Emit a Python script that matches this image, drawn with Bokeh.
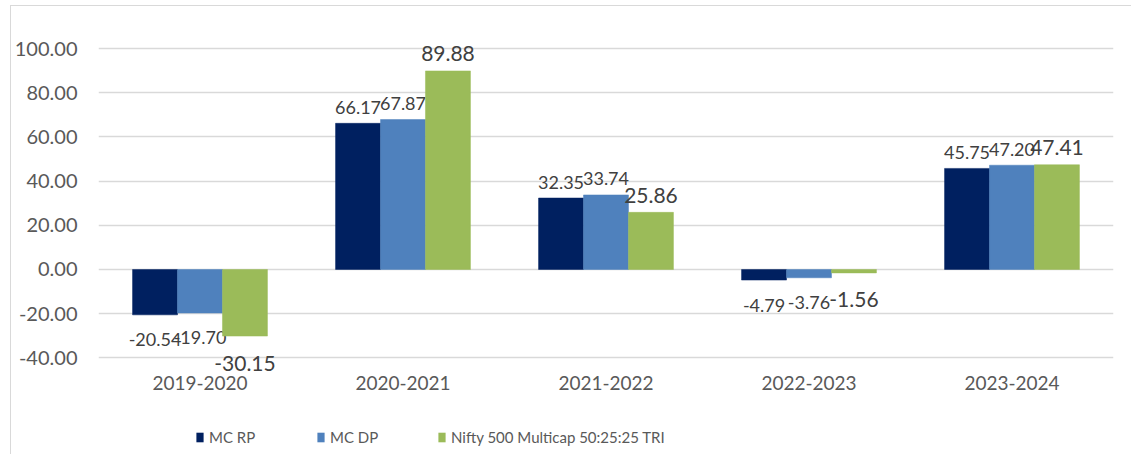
from bokeh.plotting import figure
from bokeh.layouts import column
from bokeh.models import (ColumnDataSource, FactorRange, Range1d, FixedTicker,
                          NumeralTickFormatter, Legend, LegendItem)
from bokeh.transform import dodge
from bokeh.core.properties import value
from bokeh.embed import file_html
from bokeh.resources import INLINE

# ---- data ----
years = ["2019-2020", "2020-2021", "2021-2022", "2022-2023", "2023-2024"]
mc_rp = [-20.54, 66.17, 32.35, -4.79, 45.75]
mc_dp = [-19.70, 67.87, 33.74, -3.76, 47.20]
nifty = [-30.15, 89.88, 25.86, -1.56, 47.41]
series_names = ["MC RP", "MC DP", "Nifty 500 Multicap 50:25:25 TRI"]
y_ticks = [-40, -20, 0, 20, 40, 60, 80, 100]

colors = ["#002060", "#4F81BD", "#9BBB59"]
FONT = "Lato"

p = figure(x_range=FactorRange(factors=years, range_padding=0),
           y_range=Range1d(-48, 110),
           width=1120, height=404,
           min_border_left=83, min_border_right=18,
           min_border_top=20, min_border_bottom=35,
           output_backend="svg", toolbar_location=None, tools="")
p.outline_line_color = None
p.background_fill_color = "white"

# legend-only strip beneath the chart (its bars fall outside its view)
q = figure(x_range=p.x_range, y_range=Range1d(100, 200),
           width=1120, height=44, min_border=0,
           x_axis_location=None, y_axis_location=None,
           output_backend="svg", toolbar_location=None, tools="")
q.outline_line_color = None
q.grid.visible = False

bw = 0.2215
offsets = [-bw, 0.0, bw]
all_series = [mc_rp, mc_dp, nifty]
font_sizes = ["18px", "18px", "21px"]
pos_off = [-16, -16, -17]
neg_off = [25, 25, 27]

legend_renderers = []
for vals, off, col, fs, po, no in zip(all_series, offsets, colors, font_sizes, pos_off, neg_off):
    src = ColumnDataSource(dict(
        year=years,
        val=vals,
        txt=["%.2f" % v for v in vals],
        yoff=[po if v >= 0 else no for v in vals],
    ))
    p.vbar(x=dodge("year", off, range=p.x_range), top="val", bottom=0,
           width=bw, source=src, fill_color=col, line_color=col, line_width=0.5)
    p.text(x=dodge("year", off, range=p.x_range), y="val", text="txt",
           y_offset="yoff", source=src, text_align="center",
           text_baseline="alphabetic", text_font=value(FONT),
           text_font_size=fs, text_color="#404040")
    lr = q.vbar(x=dodge("year", off, range=q.x_range), top="val", bottom=0,
                width=bw, source=src, fill_color=col, line_color=None)
    legend_renderers.append(lr)

# axes
p.yaxis.ticker = FixedTicker(ticks=y_ticks)
p.yaxis.formatter = NumeralTickFormatter(format="0.00")
for ax in (p.xaxis, p.yaxis):
    ax.axis_line_color = None
    ax.major_tick_line_color = None
    ax.minor_tick_line_color = None
    ax.major_tick_out = 0
    ax.major_tick_in = 0
    ax.major_label_text_font = FONT
    ax.major_label_text_font_size = "20px"
    ax.major_label_text_color = "#595959"
p.yaxis.major_label_standoff = 21
p.xaxis.major_label_standoff = 0
p.xaxis.major_label_text_font_size = "19px"

p.xgrid.grid_line_color = None
p.ygrid.ticker = FixedTicker(ticks=y_ticks)
p.ygrid.grid_line_color = "#d9d9d9"
p.ygrid.grid_line_width = 1.5

leg = Legend(items=[LegendItem(label=n, renderers=[r]) for n, r in zip(series_names, legend_renderers)],
             location=(97, 6), orientation="horizontal",
             border_line_color=None, background_fill_alpha=0,
             padding=0, margin=0, spacing=5, glyph_width=9, glyph_height=12,
             label_standoff=5, label_width=102, label_height=22,
             label_text_font=FONT, label_text_font_size="15px",
             label_text_color="#595959")
q.add_layout(leg)

layout = column(p, q, spacing=0, margin=(5, 0, 0, 10),
                styles={"border-left": "1px solid #d9d9d9",
                        "border-top": "1px solid #d9d9d9"})
open("out.html", "w").write(file_html(layout, INLINE))
